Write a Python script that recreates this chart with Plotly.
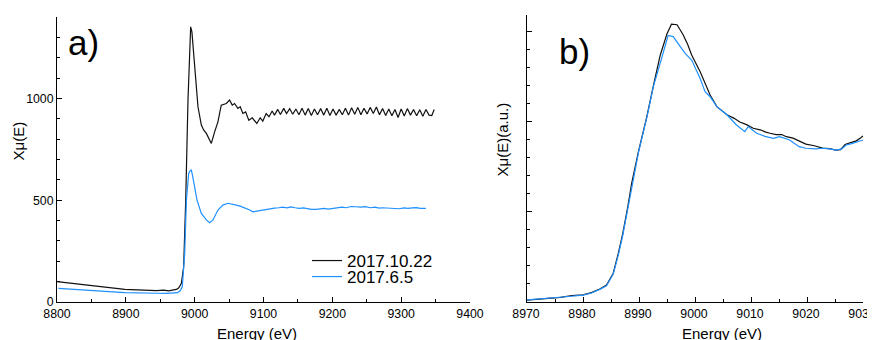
import plotly.graph_objects as go

OFF = 8  # page body margin: figure origin sits at (8, 8) on screen
W, H = 875 - OFF, 340 - OFF  # figure fills the rest of the window exactly


def PX(px):
    return (px - OFF) / W


def PY(py):
    return 1 - (py - OFF) / H


# ---------------- Panel a data ----------------
a_black_E = [8800, 8843, 8898.6, 8944.5, 8955, 8962, 8968, 8973.5, 8977, 8980.7, 8984, 8987, 8990.3, 8994.2, 8996,
             9000, 9004.8, 9009.7, 9013, 9017, 9020.5, 9024.2, 9029, 9033.8, 9038.6, 9043.5, 9046, 9050.7, 9054.6,
             9058, 9062.8, 9066.2, 9070, 9074, 9078.7, 9083.6, 9090.3, 9095.2, 9099,
             9103.9, 9108, 9112.6, 9116, 9120.7, 9124.6, 9129.4, 9133.5, 9138, 9142.5, 9147, 9151.5, 9156, 9160.5,
             9165, 9169.5, 9174, 9178.5, 9183, 9187.5, 9192, 9196.5, 9201, 9205.5, 9210, 9214.5, 9219, 9223.5,
             9228, 9232.5, 9237, 9241.5, 9246, 9250.5, 9255, 9259.5, 9264, 9268.5, 9273, 9277.5, 9282, 9286.5,
             9291, 9295.5, 9300, 9304.5, 9309, 9313.5, 9318, 9322.5, 9327, 9331.5, 9336, 9340.5, 9344.5, 9348]
a_black_v = [100, 83, 62, 56, 58, 55, 60, 62, 70, 92, 173, 500, 992, 1352, 1327,
             1155, 959, 869, 845, 828, 805, 779, 836, 885, 967, 970, 975, 992, 967,
             975, 951, 959, 926, 934, 893, 905, 877, 905, 889,
             926, 910, 938, 918, 946, 921, 951, 926, 950, 922, 948, 920, 952, 918,
             950, 916, 948, 920, 950, 918, 952, 916, 948, 918, 946, 920, 952, 918,
             954, 922, 956, 920, 952, 924, 956, 926, 958, 920, 950, 916, 948, 915,
             946, 906, 948, 914, 950, 918, 946, 915, 944, 912, 946, 918, 916, 946]

a_blue_E = [8802, 8850, 8898.6, 8944.5, 8960, 8975, 8979, 8982, 8985.5, 8988, 8991.3, 8993.5, 8995.2, 8997, 8999,
            9003.4, 9009.7, 9017, 9021.7, 9026.6, 9033.8, 9041, 9048.3, 9054, 9060.4, 9067, 9074.9, 9080, 9084.5,
            9089, 9094.2, 9099, 9103.9, 9110, 9116, 9122, 9128, 9134, 9140, 9146, 9152, 9158, 9164, 9170, 9176.6,
            9182, 9188, 9194, 9200.5, 9207, 9214, 9220, 9227, 9234.3, 9241, 9248, 9255, 9262, 9268, 9272.9, 9280,
            9287, 9292, 9297, 9304, 9310, 9316, 9322, 9328, 9335.8]
a_blue_v = [67, 56, 46, 43, 42, 46, 55, 75, 239, 500, 632, 645, 648, 620, 583,
            500, 435, 403, 389, 403, 452, 476, 485, 482, 476, 470, 460, 452, 443,
            446, 448, 452, 455, 458, 461, 463, 466, 462, 467, 463, 460, 462, 457, 455, 455,
            457, 460, 456, 460, 463, 466, 463, 469, 468, 466, 468, 463, 466, 461, 463, 461,
            459, 461, 458, 462, 460, 462, 464, 460, 460]

# ---------------- Panel b data ----------------
b_black_E = [8970, 8972, 8974, 8976, 8978, 8980, 8981.5, 8983, 8984.2, 8985.4, 8986.3, 8987.1, 8988, 8988.7, 8989.9,
             8991.4, 8992.6, 8993.8, 8995, 8995.8, 8996.8, 8997.9, 8998.7, 8999.4, 9000.9, 9002.7, 9003.9, 9005.7,
             9007, 9008, 9009.2, 9010.4, 9011.8, 9012.5, 9013.4, 9014.5, 9015.5, 9016.3, 9017.5, 9018.6, 9019.8,
             9021.3, 9022.8, 9024, 9025.2, 9026, 9026.8, 9027.8, 9028.8, 9029.6, 9030]
b_black_v = [0.01, 0.014, 0.018, 0.026, 0.036, 0.04, 0.052, 0.072, 0.094, 0.16, 0.27, 0.38, 0.53, 0.66, 0.835,
             1.03, 1.206, 1.372, 1.49, 1.543, 1.54, 1.483, 1.43, 1.372, 1.28, 1.15, 1.085, 1.04,
             1.02, 1.0, 0.985, 0.965, 0.955, 0.945, 0.937, 0.93, 0.93, 0.918, 0.91, 0.894, 0.877,
             0.868, 0.855, 0.852, 0.844, 0.846, 0.875, 0.885, 0.895, 0.912, 0.922]

b_blue_E = [8970, 8972, 8974, 8976, 8978, 8980, 8981.5, 8983, 8984.2, 8985.4, 8986.3, 8987.1, 8988, 8988.7, 8989.9,
            8991.4, 8992.6, 8994.1, 8995.2, 8996.1, 8997, 8998.2, 8999.4, 9000.9, 9001.8, 9002.7, 9003.9, 9005.7,
            9007.4, 9008.9, 9009.5, 9011, 9012.5, 9014, 9015.1, 9016.9, 9018.6, 9019.8, 9021.5, 9022.8, 9024,
            9025.2, 9026.2, 9027, 9028, 9029.6, 9030]
b_blue_v = [0.012, 0.016, 0.02, 0.026, 0.032, 0.038, 0.05, 0.07, 0.09, 0.155, 0.26, 0.37, 0.52, 0.65, 0.83,
            1.025, 1.2, 1.36, 1.48, 1.474, 1.437, 1.382, 1.344, 1.243, 1.168, 1.14, 1.085, 1.04,
            0.983, 0.946, 0.974, 0.937, 0.92, 0.909, 0.918, 0.9, 0.863, 0.854, 0.85, 0.854, 0.85,
            0.844, 0.85, 0.872, 0.88, 0.896, 0.9]

series_names = ["2017.10.22", "2017.6.5"]
BLACK = "#111111"
BLUE = "#1E90FF"
FONT = "Arial, Liberation Sans, sans-serif"

fig = go.Figure()
fig.add_trace(go.Scatter(x=a_black_E, y=a_black_v, mode="lines", name=series_names[0],
                         line=dict(color=BLACK, width=1.2), xaxis="x", yaxis="y", legend="legend"))
fig.add_trace(go.Scatter(x=a_blue_E, y=a_blue_v, mode="lines", name=series_names[1],
                         line=dict(color=BLUE, width=1.2), xaxis="x", yaxis="y", legend="legend2"))
fig.add_trace(go.Scatter(x=b_black_E, y=b_black_v, mode="lines", showlegend=False,
                         line=dict(color=BLACK, width=1.2), xaxis="x2", yaxis="y2"))
fig.add_trace(go.Scatter(x=b_blue_E, y=b_blue_v, mode="lines", showlegend=False,
                         line=dict(color=BLUE, width=1.2), xaxis="x2", yaxis="y2"))

tickfont = dict(family=FONT, size=12.3, color="black")
common = dict(showgrid=False, zeroline=False, showline=True, linecolor="black", linewidth=1,
              ticks="inside", ticklen=5, tickwidth=1, tickcolor="black", tickfont=tickfont, mirror=False,
              automargin=False, ticklabeloverflow="allow")

fig.update_layout(
    width=W, height=H, margin=dict(l=0, r=0, t=0, b=0, autoexpand=False),
    paper_bgcolor="white", plot_bgcolor="white",
    font=dict(family=FONT, color="black"),
    xaxis=dict(domain=[PX(57), PX(470)], range=[8800, 9400], dtick=100, anchor="y",
               minor=dict(dtick=50, ticks="inside", ticklen=3, tickcolor="black"), **common),
    yaxis=dict(domain=[PY(302), PY(17)], range=[0, 1400], tickvals=[0, 500, 1000], anchor="x",
               minor=dict(dtick=100, ticks="inside", ticklen=3, tickcolor="black"), **common),
    xaxis2=dict(domain=[PX(527), PX(863)], range=[8970, 9030], dtick=10, anchor="y2", ticklabelshift=-1,
                minor=dict(dtick=5, ticks="inside", ticklen=3, tickcolor="black"), **common),
    yaxis2=dict(domain=[PY(302), PY(15)], range=[0, 1.594], dtick=0.5, anchor="x2", showticklabels=False,
                minor=dict(dtick=0.1, ticks="inside", ticklen=3, tickcolor="black"), **common),
    legend=dict(x=PX(307), y=PY(261), xanchor="left", yanchor="middle", bgcolor="rgba(0,0,0,0)",
                font=dict(family=FONT, size=17, color="black"), borderwidth=0),
    legend2=dict(x=PX(307), y=PY(277), xanchor="left", yanchor="middle", bgcolor="rgba(0,0,0,0)",
                 font=dict(family=FONT, size=17, color="black"), borderwidth=0),
)

ann = [
    dict(text="a)", x=PX(66), y=PY(43), xanchor="left", yanchor="middle", font=dict(size=35)),
    dict(text="b)", x=PX(557), y=PY(51), xanchor="left", yanchor="middle", font=dict(size=35)),
    dict(text="Xμ(E)", x=PX(17.5), y=PY(141), textangle=-90, xanchor="center", yanchor="middle", font=dict(size=15)),
    dict(text="Xμ(E)(a.u.)", x=PX(502), y=PY(139.5), textangle=-90, xanchor="center", yanchor="middle", font=dict(size=15)),
    dict(text="Energy (eV)", x=PX(257), y=PY(333), xanchor="center", yanchor="middle", font=dict(size=15)),
    dict(text="Energy (eV)", x=PX(721.5), y=PY(333), xanchor="center", yanchor="middle", font=dict(size=15)),
]
for a in ann:
    a.update(xref="paper", yref="paper", showarrow=False)
    a["font"] = dict(family=FONT, color="black", **a["font"])
fig.update_layout(annotations=ann)

# hide page scrollbars so the full 875 px window width stays visible
fig.write_html("out.html", post_script="document.documentElement.style.overflow='hidden';")
